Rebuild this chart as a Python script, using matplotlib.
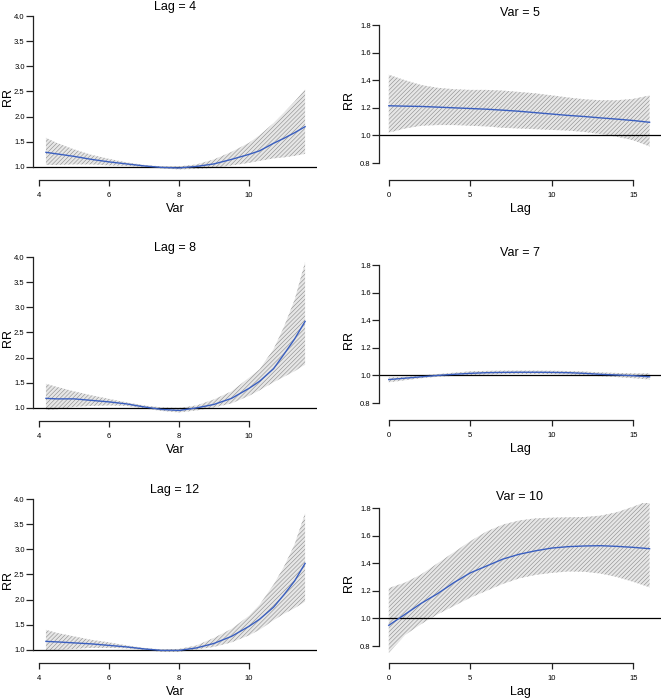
import matplotlib
matplotlib.use("Agg")
import matplotlib.pyplot as plt
import numpy as np

plt.rcParams['font.family'] = ['Liberation Sans', 'DejaVu Sans']
plt.rcParams['hatch.linewidth'] = 0.4

# exposure-response at fixed lags (left column)
var = [4.2, 4.5, 5, 5.5, 6, 6.5, 7, 7.5, 8, 8.5, 9, 9.5, 10, 10.3, 10.7, 11, 11.3, 11.6]
lag4_fit = [1.29, 1.26, 1.21, 1.15, 1.10, 1.06, 1.02, 0.99, 0.98, 1.01, 1.06, 1.15, 1.25, 1.32, 1.47, 1.57, 1.68, 1.80]
lag4_hi = [1.58, 1.48, 1.35, 1.24, 1.16, 1.09, 1.04, 1.01, 1.01, 1.05, 1.15, 1.30, 1.48, 1.63, 1.87, 2.08, 2.30, 2.54]
lag4_lo = [1.04, 1.04, 1.05, 1.05, 1.03, 1.02, 1.00, 0.97, 0.95, 0.96, 0.98, 1.03, 1.08, 1.12, 1.17, 1.19, 1.22, 1.26]
lag8_fit = [1.19, 1.18, 1.18, 1.15, 1.12, 1.08, 1.02, 0.97, 0.95, 1.00, 1.07, 1.19, 1.39, 1.53, 1.78, 2.07, 2.37, 2.72]
lag8_hi = [1.48, 1.42, 1.33, 1.25, 1.18, 1.11, 1.05, 1.01, 1.00, 1.05, 1.17, 1.33, 1.60, 1.77, 2.17, 2.62, 3.15, 3.90]
lag8_lo = [0.96, 0.97, 1.02, 1.04, 1.05, 1.04, 0.99, 0.94, 0.91, 0.95, 1.01, 1.09, 1.24, 1.35, 1.51, 1.62, 1.73, 1.86]
lag12_fit = [1.17, 1.16, 1.14, 1.12, 1.09, 1.06, 1.02, 0.99, 0.99, 1.04, 1.13, 1.27, 1.47, 1.61, 1.85, 2.10, 2.37, 2.72]
lag12_hi = [1.40, 1.34, 1.27, 1.20, 1.15, 1.09, 1.04, 1.01, 1.02, 1.09, 1.24, 1.42, 1.68, 1.90, 2.30, 2.66, 3.10, 3.72]
lag12_lo = [0.98, 1.00, 1.02, 1.04, 1.04, 1.03, 1.00, 0.96, 0.96, 1.01, 1.06, 1.15, 1.29, 1.40, 1.59, 1.72, 1.83, 1.96]

# lag-response at fixed exposure (right column)
lag = list(range(17))
var5_fit = [1.215, 1.212, 1.21, 1.205, 1.20, 1.195, 1.19, 1.183, 1.175, 1.165, 1.155, 1.145, 1.137, 1.127, 1.118, 1.108, 1.095]
var5_hi = [1.44, 1.40, 1.365, 1.345, 1.335, 1.33, 1.33, 1.325, 1.315, 1.305, 1.29, 1.275, 1.262, 1.255, 1.255, 1.265, 1.29]
var5_lo = [1.02, 1.05, 1.07, 1.075, 1.075, 1.07, 1.065, 1.055, 1.05, 1.045, 1.04, 1.035, 1.025, 1.01, 0.99, 0.965, 0.92]
var7_fit = [0.97, 0.98, 0.99, 1.0, 1.008, 1.015, 1.02, 1.022, 1.023, 1.023, 1.022, 1.02, 1.015, 1.008, 1.003, 0.998, 0.99]
var7_hi = [0.985, 0.99, 1.0, 1.01, 1.02, 1.03, 1.033, 1.035, 1.035, 1.035, 1.034, 1.032, 1.028, 1.022, 1.018, 1.015, 1.015]
var7_lo = [0.95, 0.965, 0.98, 0.99, 0.997, 1.003, 1.007, 1.01, 1.011, 1.011, 1.01, 1.008, 1.002, 0.994, 0.988, 0.98, 0.97]
var10_fit = [0.95, 1.03, 1.11, 1.18, 1.26, 1.33, 1.38, 1.43, 1.465, 1.49, 1.51, 1.52, 1.525, 1.527, 1.522, 1.515, 1.505]
var10_hi = [1.22, 1.26, 1.32, 1.40, 1.48, 1.56, 1.63, 1.68, 1.71, 1.725, 1.73, 1.733, 1.735, 1.745, 1.77, 1.81, 1.855]
var10_lo = [0.75, 0.88, 0.96, 1.03, 1.09, 1.15, 1.20, 1.25, 1.29, 1.315, 1.33, 1.34, 1.338, 1.325, 1.30, 1.265, 1.225]

left_titles = ['Lag = 4', 'Lag = 8', 'Lag = 12']
right_titles = ['Var = 5', 'Var = 7', 'Var = 10']
left_data = [(lag4_fit, lag4_lo, lag4_hi), (lag8_fit, lag8_lo, lag8_hi), (lag12_fit, lag12_lo, lag12_hi)]
right_data = [(var5_fit, var5_lo, var5_hi), (var7_fit, var7_lo, var7_hi), (var10_fit, var10_lo, var10_hi)]

W, H = 662, 698
fig = plt.figure(figsize=(W / 100, H / 100), dpi=100)


def px_axes(left, right, top, bottom):
    return fig.add_axes([left / W, 1 - bottom / H, (right - left) / W, (bottom - top) / H])


def style(ax, title, xlab, xticks, yticks, ylab_x):
    for s in ['top', 'right']:
        ax.spines[s].set_visible(False)
    ax.spines['left'].set_bounds(yticks[0], yticks[-1])
    ax.spines['bottom'].set_bounds(xticks[0], xticks[-1])
    for s in ['left', 'bottom']:
        ax.spines[s].set_linewidth(0.9)
        ax.spines[s].set_color('#222222')
    ax.set_xticks(xticks)
    ax.set_yticks(yticks)
    ax.set_yticklabels(['%.1f' % v for v in yticks])
    ax.tick_params(axis='both', direction='out', width=0.9, color='#222222', labelsize=5.5)
    ax.tick_params(axis='x', length=4, pad=4.5)
    ax.tick_params(axis='y', length=5, pad=1)
    ax.set_title(title, fontsize=9, pad=1.5)
    ax.set_xlabel(xlab, fontsize=9, labelpad=3)
    ax.set_ylabel('RR', fontsize=9)
    ax.yaxis.set_label_coords(ylab_x, 0.5)


def draw(ax, x, fit, lo, hi):
    ax.fill_between(x, lo, hi, facecolor='#e6e6e6', edgecolor='#8a8a8a', hatch='////////', linewidth=0)
    ax.axhline(1, color='black', linewidth=0.9)
    ax.plot(x, fit, color='#3a5fc0', linewidth=1)


left_bottoms = [180, 421, 663]
right_bottoms = [180, 420, 663]

for i in range(3):
    b = left_bottoms[i]
    ax = px_axes(33, 317, b - 166.5, b)
    fit, lo, hi = left_data[i]
    draw(ax, var, fit, lo, hi)
    ax.set_xlim(3.83, 11.94)
    ax.set_ylim(0.74, 4.05)
    style(ax, left_titles[i], 'Var', [4, 6, 8, 10], [1.0, 1.5, 2.0, 2.5, 3.0, 3.5, 4.0], -19 / 284)

    b = right_bottoms[i]
    ax = px_axes(379, 661, b - 160.5, b)
    fit, lo, hi = right_data[i]
    draw(ax, lag, fit, lo, hi)
    ax.set_xlim(-0.6, 16.7)
    ax.set_ylim(0.677, 1.84)
    style(ax, right_titles[i], 'Lag', [0, 5, 10, 15], [0.8, 1.0, 1.2, 1.4, 1.6, 1.8], -24 / 282)

fig.savefig("out.png", dpi=100)
